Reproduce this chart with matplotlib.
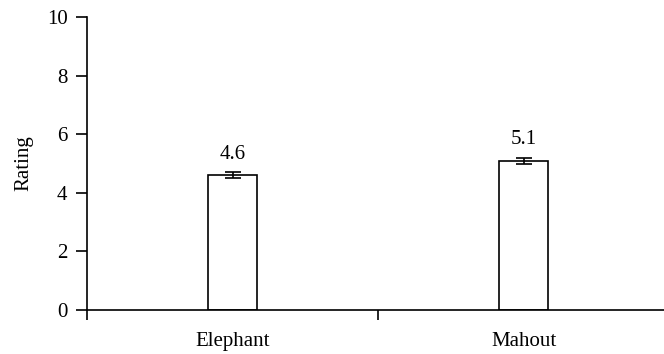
import numpy as np
import matplotlib.pyplot as plt

categories = ['Elephant', 'Mahout']
ratings = [4.6, 5.1]
errors = [0.1, 0.1]
value_labels = ['4.6', '5.1']

plt.rcParams['font.family'] = ['Liberation Serif', 'DejaVu Serif']
fs = 15

fig = plt.figure(figsize=(6.64, 3.54), dpi=100)
ax = fig.add_axes([0.131, 0.124, 0.877, 0.828])

x = np.arange(len(categories)) + 0.5
ax.bar(x, ratings, width=0.17, color='white', edgecolor='black', linewidth=1.2,
       yerr=errors, error_kw=dict(ecolor='black', elinewidth=1.2, capsize=6, capthick=1.2))

for xi, v, lab in zip(x, ratings, value_labels):
    ax.text(xi, v + 0.4, lab, ha='center', va='bottom', fontsize=fs)

ax.set_xlim(0, 2)
ax.set_ylim(0, 10)
ax.set_yticks(np.arange(0, 11, 2))
ax.set_xticks([0, 1, 2])
ax.set_xticklabels([])
ax.set_xticks(x, minor=True)
ax.set_xticklabels(categories, minor=True)
ax.tick_params(axis='x', which='minor', length=0, pad=16, labelsize=fs)
ax.tick_params(axis='x', which='major', direction='out', length=7, width=1.2)
ax.tick_params(axis='y', direction='out', length=8, width=1.2, labelsize=fs, pad=6)
ax.set_ylabel('Rating', fontsize=fs, labelpad=10)

for s in ['top', 'right']:
    ax.spines[s].set_visible(False)
for s in ['left', 'bottom']:
    ax.spines[s].set_linewidth(1.2)

fig.savefig('out.png', dpi=100)
